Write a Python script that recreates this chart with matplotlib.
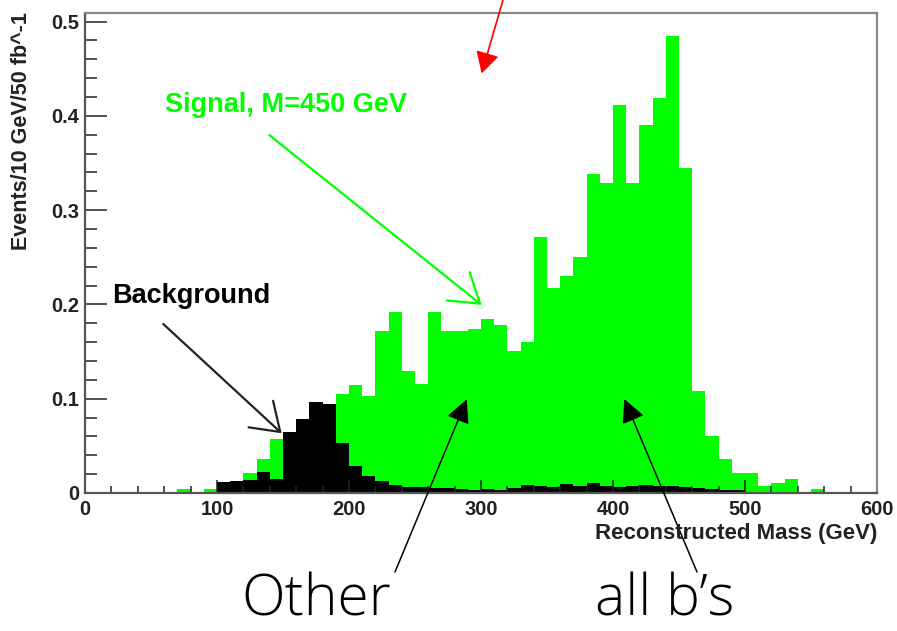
import matplotlib
matplotlib.use("Agg")
import matplotlib.pyplot as plt
import numpy as np
from matplotlib.ticker import MultipleLocator, FuncFormatter

# ---------------- data ----------------
bin_width = 10
bin_lows = list(range(0, 600, 10))  # 60 bins of 10 GeV

signal = [0, 0, 0, 0, 0, 0, 0, 0.004, 0, 0.0045,            # 0-90
          0.008, 0.010, 0.0215, 0.0357, 0.057, 0.055, 0.070, 0.085, 0.090, 0.1052,   # 100-190
          0.115, 0.1025, 0.172, 0.1916, 0.1295, 0.1155, 0.1916, 0.172, 0.172, 0.1736,  # 200-290
          0.184, 0.178, 0.1506, 0.1605, 0.2718, 0.217, 0.2305, 0.2506, 0.3383, 0.3284,  # 300-390
          0.4115, 0.3284, 0.390, 0.4185, 0.4846, 0.345, 0.1085, 0.060, 0.0357, 0.0215,  # 400-490
          0.0215, 0.0074, 0.011, 0.0145, 0, 0.004, 0, 0, 0, 0]                         # 500-590

background = [0, 0, 0, 0, 0, 0, 0, 0, 0, 0,
              0.012, 0.0125, 0.0138, 0.0226, 0.0145, 0.0644, 0.079, 0.0965, 0.0944, 0.0527,
              0.0286, 0.018, 0.0125, 0.0088, 0.0065, 0.006, 0.005, 0.005, 0.004, 0.003,
              0.004, 0.003, 0.005, 0.008, 0.007, 0.006, 0.010, 0.007, 0.011, 0.007,
              0.006, 0.007, 0.008, 0.007, 0.007, 0.006, 0.005, 0.004, 0.003, 0.003,
              0, 0, 0, 0, 0, 0, 0, 0, 0, 0]

xticks = [0, 100, 200, 300, 400, 500, 600]
yticks = [0, 0.1, 0.2, 0.3, 0.4, 0.5]

# ---------------- figure ----------------
W, H = 897, 631
fig = plt.figure(figsize=(W / 100, H / 100), dpi=100)
ax = fig.add_axes([85 / W, 1 - 493 / H, (877 - 85) / W, (493 - 13.3) / H])

ax.bar(bin_lows, signal, width=bin_width, align="edge", color="#00ff00", linewidth=0)
ax.bar(bin_lows, background, width=bin_width, align="edge", color="black", linewidth=0)

ax.set_xlim(0, 600)
ax.set_ylim(0, 0.5087)

ax.set_xticks(xticks)
ax.set_yticks(yticks)
ax.xaxis.set_minor_locator(MultipleLocator(20))
ax.yaxis.set_minor_locator(MultipleLocator(0.02))
ax.yaxis.set_major_formatter(FuncFormatter(lambda v, p: "0" if abs(v) < 1e-9 else f"{v:.1f}"))
ax.xaxis.set_major_formatter(FuncFormatter(lambda v, p: f"{int(round(v))}"))

ax.tick_params(axis="both", which="both", direction="in", top=False, right=False,
               colors="#222222", width=1.1)
ax.tick_params(axis="x", which="major", length=9.5, pad=5)
ax.tick_params(axis="x", which="minor", length=5)
ax.tick_params(axis="y", which="major", length=16, pad=4)
ax.tick_params(axis="y", which="minor", length=8.5)

for lbl in ax.get_xticklabels() + ax.get_yticklabels():
    lbl.set_fontfamily("Liberation Sans")
    lbl.set_fontweight("bold")
    lbl.set_fontsize(14.5)
    lbl.set_color("#222222")

for side in ["top", "right"]:
    ax.spines[side].set_color("#888888")
    ax.spines[side].set_linewidth(1.6)
for side in ["left", "bottom"]:
    ax.spines[side].set_color("#555555")
    ax.spines[side].set_linewidth(1.6)

# axis titles (ROOT style)
fig.text(22 / W, 1 - 12 / H, "Events/10 GeV/50 fb^-1", rotation=90, ha="center", va="top",
         fontfamily="Liberation Sans", fontweight="bold", fontsize=15.5, color="#222222")
fig.text(877 / W, 1 - 534 / H, "Reconstructed Mass (GeV)", ha="right", va="center",
         fontfamily="Liberation Sans", fontweight="bold", fontsize=16, color="#222222")

# in-plot labels and arrows
ax.text(60.6, 0.411, "Signal, M=450 GeV", ha="left", va="center", color="#00ff00",
        fontfamily="Liberation Sans", fontweight="bold", fontsize=19.5)
ax.annotate("", xy=(300.5, 0.1994), xytext=(139.6, 0.3796), annotation_clip=False,
            arrowprops=dict(arrowstyle="->,head_length=1.0,head_width=0.65", color="#00ff00",
                            lw=1.6, mutation_scale=20, shrinkA=0, shrinkB=0))

ax.text(20.5, 0.209, "Background", ha="left", va="center", color="black",
        fontfamily="Liberation Sans", fontweight="bold", fontsize=19.5)
ax.annotate("", xy=(149, 0.0633), xytext=(59.3, 0.1792), annotation_clip=False,
            arrowprops=dict(arrowstyle="->,head_length=0.95,head_width=0.65", color="#222222",
                            lw=1.6, mutation_scale=20, shrinkA=0, shrinkB=0))

# hand-drawn overlay annotations
hand = dict(arrowstyle="-|>,head_length=0.72,head_width=0.36", color="black", lw=1.1,
            mutation_scale=20, shrinkA=0, shrinkB=0)
ax.annotate("", xy=(289.2, 0.0994), xycoords="data", xytext=(395, H - 572),
            textcoords="figure pixels", annotation_clip=False, arrowprops=hand)
ax.annotate("", xy=(408.6, 0.0997), xycoords="data", xytext=(697, H - 572),
            textcoords="figure pixels", annotation_clip=False, arrowprops=hand)
red = dict(arrowstyle="-|>,head_length=0.65,head_width=0.36", color="#ff0000", lw=1.2,
           mutation_scale=20, shrinkA=0, shrinkB=0)
ax.annotate("", xy=(300.5, 0.445), xycoords="data", xytext=(503, H),
            textcoords="figure pixels", annotation_clip=False, arrowprops=red)

fig.text(316 / W, 1 / H, "Other", ha="center", va="bottom", fontsize=41,
         fontfamily="Open Sans", fontweight="light", color="black")
fig.text(665 / W, 1 / H, "all b\u2019s", ha="center", va="bottom", fontsize=41,
         fontfamily="Open Sans", fontweight="light", color="black")

fig.savefig("out.png", dpi=100)
